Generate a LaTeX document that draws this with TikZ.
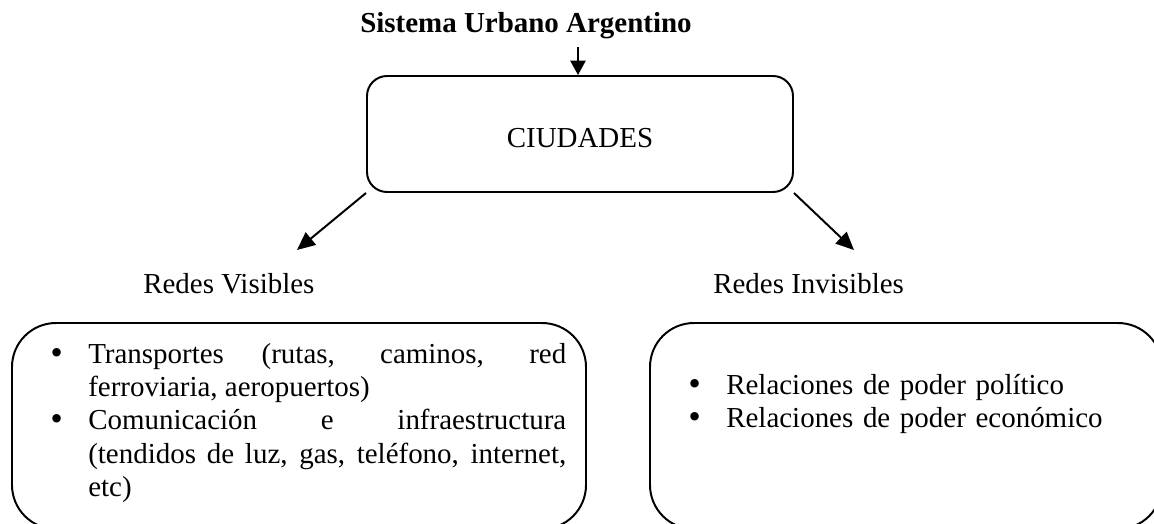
\documentclass[tikz,border=0pt]{standalone}
\usepackage{fontspec}
\setmainfont{Liberation Serif}
\newfontfamily\bulletfont{DejaVu Sans}
\usetikzlibrary{arrows.meta,positioning}
\newcommand{\bul}{\leavevmode\llap{\makebox[0pt][c]{\bulletfont •}\hspace{0.77cm}}}

\begin{document}
\begin{tikzpicture}[every node/.style={font=\fontsize{20.6}{23.8}\selectfont, inner sep=0pt},
    >={Triangle[length=0.45cm,width=0.4cm]},
    box/.style={draw, line width=1.4pt},
    link/.style={->, line width=1.4pt}]
    \useasboundingbox (0,0) rectangle (28.85,-13.1);
    \clip (0,0) rectangle (28.85,-13.1);

    % Title
    \node[anchor=base west] (title) at (9.0,-0.8) {\textbf{Sistema Urbano Argentino}};

    % Central box
    \node[box, rounded corners=0.5cm, minimum width=10.65cm, minimum height=2.9cm,
          text height=0.68cm, text depth=0cm] (ciudades) at (14.5,-3.35) {CIUDADES};
    \coordinate (entry) at (14.45,-1.175);
    \draw[link, >={Triangle[length=0.36cm,width=0.38cm]}] (entry) -- (entry |- ciudades.north);

    % Branches
    \coordinate (vistip) at (7.425,-6.25);
    \coordinate (invtip) at (21.35,-6.25);
    \draw[link] (ciudades.south west) -- (vistip);
    \draw[link] (ciudades.south east) -- (invtip);

    % Labels
    \node[anchor=base west] (vislabel) at (3.575,-7.325) {Redes Visibles};
    \node[anchor=base west] (invlabel) at (17.825,-7.325) {Redes Invisibles};

    % Bottom boxes
    \node[box, rounded corners=1.1cm, minimum width=14.35cm, minimum height=5.15cm] (visbox) at (7.475,-10.65) {};
    \node[box, rounded corners=1.1cm, minimum width=12.8cm, minimum height=5.15cm] (invbox) at (22.65,-10.65) {};

    % Lists
    \node[anchor=base west, text width=11.95cm, align=justify] (vislist) at (2.2,-9.075)
        {\bul Transportes (rutas, caminos, red\linebreak ferroviaria, aeropuertos)\par
         \bul Comunicación e infraestructura\linebreak (tendidos de luz, gas, teléfono, internet,\linebreak etc)};
    \node[anchor=base west, text width=10cm, align=left] (invlist) at (18.15,-9.85)
        {\bul Relaciones de poder político\par
         \bul Relaciones de poder económico};
\end{tikzpicture}
\end{document}
